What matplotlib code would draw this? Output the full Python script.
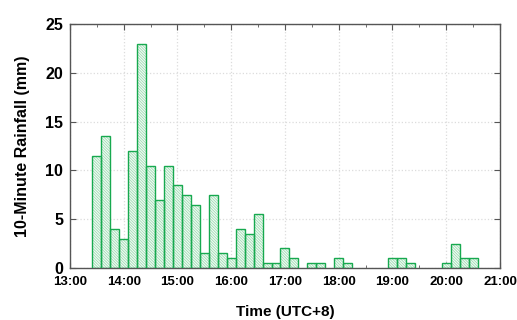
import matplotlib
matplotlib.use("Agg")
import matplotlib.pyplot as plt
from matplotlib.ticker import FuncFormatter, MultipleLocator

# 10-minute bins (bar centre times, UTC+8) and rainfall in mm
times = ["13:30", "13:40", "13:50", "14:00", "14:10", "14:20", "14:30", "14:40",
         "14:50", "15:00", "15:10", "15:20", "15:30", "15:40", "15:50", "16:00",
         "16:10", "16:20", "16:30", "16:40", "16:50", "17:00", "17:10",
         "17:30", "17:40", "18:00", "18:10",
         "19:00", "19:10", "19:20",
         "20:00", "20:10", "20:20", "20:30"]
rain = [11.5, 13.5, 4.0, 3.0, 12.0, 23.0, 10.5, 7.0,
        10.5, 8.5, 7.5, 6.5, 1.5, 7.5, 1.5, 1.0,
        4.0, 3.5, 5.5, 0.5, 0.5, 2.0, 1.0,
        0.5, 0.5, 1.0, 0.5,
        1.0, 1.0, 0.5,
        0.5, 2.5, 1.0, 1.0]
x_ticks = ["13:00", "14:00", "15:00", "16:00", "17:00", "18:00", "19:00", "20:00", "21:00"]


def to_hours(s):
    h, m = s.split(":")
    return int(h) + int(m) / 60


plt.rcParams["font.family"] = ["Liberation Sans", "DejaVu Sans"]
plt.rcParams["hatch.linewidth"] = 0.6

fig = plt.figure(figsize=(5.17, 3.2), dpi=100)
ax = fig.add_axes([0.1354, 0.1625, 0.8316, 0.7625])

xs = [to_hours(t) for t in times]
# hatched fill in pale green, then the outline on top
ax.bar(xs, rain, width=1 / 6, align="center", facecolor="#f2fbf5",
       edgecolor="#9fdcb4", linewidth=0, hatch="\\" * 12, zorder=2)
ax.bar(xs, rain, width=1 / 6, align="center", facecolor="none",
       edgecolor="#17a94f", linewidth=1.0, zorder=3)

ax.set_xlim(to_hours(x_ticks[0]), to_hours(x_ticks[-1]))
ax.set_ylim(0, 25)
ax.set_xticks([to_hours(t) for t in x_ticks])
ax.xaxis.set_major_formatter(FuncFormatter(lambda v, p: f"{int(round(v))}:00"))
ax.xaxis.set_minor_locator(MultipleLocator(0.5))
ax.yaxis.set_major_locator(MultipleLocator(5))

ax.grid(True, which="major", linestyle=":", color="#dcdcdc", linewidth=0.9, zorder=0)
ax.set_axisbelow(True)
ax.tick_params(which="both", direction="in", top=True, right=True, color="#555555")
ax.tick_params(which="major", length=4)
ax.tick_params(which="minor", length=2)
ax.tick_params(axis="x", labelsize=9.5, pad=6)
ax.tick_params(axis="y", labelsize=11.5, pad=5)
for lab in ax.get_xticklabels() + ax.get_yticklabels():
    lab.set_fontweight("bold")
for sp in ax.spines.values():
    sp.set_color("#555555")
    sp.set_linewidth(1.0)

ax.set_xlabel("Time (UTC+8)", fontsize=11, fontweight="bold", labelpad=12)
ax.set_ylabel("10-Minute Rainfall (mm)", fontsize=11.5, fontweight="bold", labelpad=11)

fig.savefig("out.png", dpi=100)
